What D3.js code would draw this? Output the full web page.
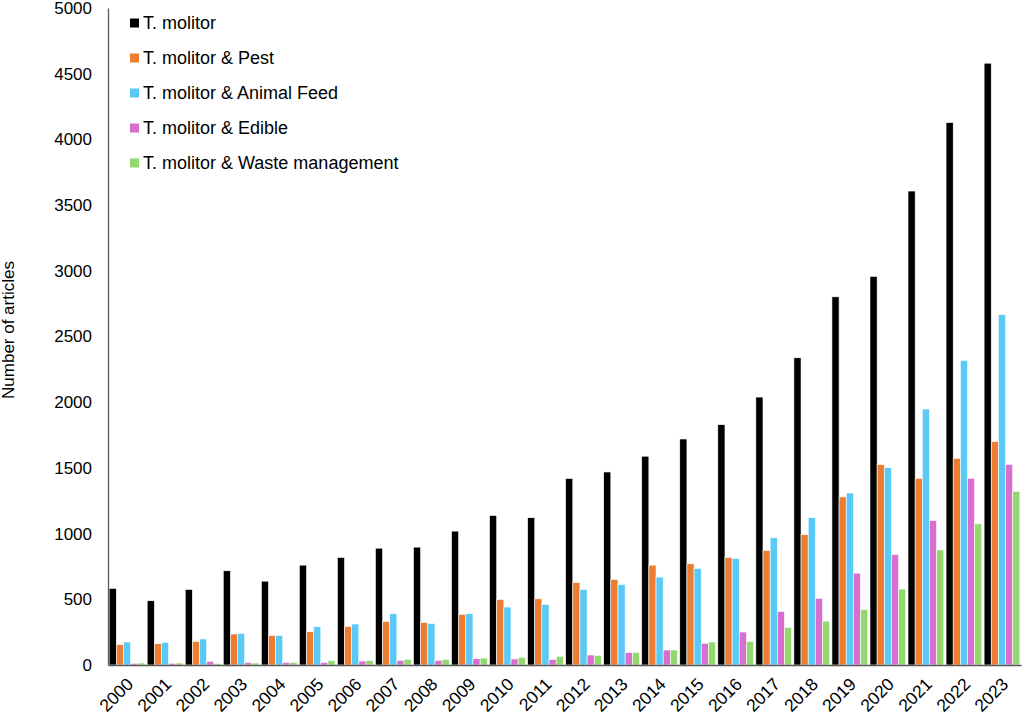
<!DOCTYPE html>
<html>
<head>
<meta charset="utf-8">
<script src="https://cdn.jsdelivr.net/npm/d3@7"></script>
<style>
  html, body { margin: 0; padding: 0; background: #fff; }
  svg { display: block; font-family: "Liberation Sans", Arial, Helvetica, sans-serif; }
</style>
</head>
<body>
<svg id="chart" width="1024" height="716"></svg>
<script>
const years = ["2000","2001","2002","2003","2004","2005","2006","2007","2008","2009","2010","2011","2012","2013","2014","2015","2016","2017","2018","2019","2020","2021","2022","2023"];
const seriesNames = ["T. molitor","T. molitor & Pest","T. molitor & Animal Feed","T. molitor & Edible","T. molitor & Waste management"];
const molitor   = [583, 489, 575, 717, 638, 760, 818, 889, 897, 1019, 1138, 1121, 1419, 1469, 1589, 1720, 1829, 2039, 2338, 2802, 2958, 3607, 4128, 4580];
const pest      = [157, 162, 180, 236, 225, 253, 294, 332, 324, 385, 499, 504, 628, 651, 760, 770, 818, 871, 993, 1279, 1525, 1421, 1573, 1700];
const feed      = [175, 172, 198, 241, 225, 291, 312, 390, 316, 390, 441, 461, 575, 613, 669, 735, 810, 968, 1122, 1309, 1502, 1948, 2318, 2667];
const edible    = [13, 13, 28, 20, 20, 20, 30, 35, 35, 48, 46, 43, 76, 94, 114, 165, 251, 408, 507, 699, 841, 1099, 1421, 1527];
const waste     = [15, 15, 12, 15, 20, 33, 33, 43, 43, 53, 58, 66, 74, 96, 114, 175, 180, 286, 334, 423, 578, 876, 1074, 1322];
const yTicks    = [0, 500, 1000, 1500, 2000, 2500, 3000, 3500, 4000, 4500, 5000];
const colors    = ["#000000", "#ED7D31", "#5BC9F5", "#D86FCE", "#92D86F"];

const allSeries = [molitor, pest, feed, edible, waste];
const svg = d3.select("#chart");

const x0 = d3.scaleBand().domain(years).range([108, 1021]).paddingInner(0.06).paddingOuter(0.03);
const x1 = d3.scaleBand().domain(d3.range(seriesNames.length)).range([0, x0.bandwidth()]).padding(0);
const y = d3.scaleLinear().domain([0, 5000]).range([665, 8]);

// bars
const groups = svg.append("g").selectAll("g")
  .data(years)
  .join("g")
  .attr("transform", d => `translate(${x0(d)},0)`);

groups.selectAll("rect")
  .data((d, i) => allSeries.map((s, k) => ({ k, v: s[i] })))
  .join("rect")
  .attr("x", d => x1(d.k))
  .attr("width", x1.bandwidth())
  .attr("y", d => y(d.v))
  .attr("height", d => y(0) - y(d.v))
  .attr("fill", d => colors[d.k])
  .attr("stroke", "#ffffff")
  .attr("stroke-width", 0.6);

// y axis
const yAxis = d3.axisLeft(y).tickValues(yTicks).tickSize(0).tickPadding(16).tickFormat(d3.format("d"));
const gy = svg.append("g").attr("transform", "translate(108,0)").call(yAxis);
gy.select(".domain").attr("stroke", "#595959").attr("stroke-width", 1.3);
gy.selectAll("text").attr("font-size", "17px").attr("fill", "#000")
  .attr("font-family", "'Liberation Sans', Arial, sans-serif");

// x axis
const xAxis = d3.axisBottom(x0).tickSize(0).tickPadding(0);
const gx = svg.append("g").attr("transform", "translate(0,665)").call(xAxis);
gx.select(".domain").attr("stroke", "#595959").attr("stroke-width", 1.3);
gx.selectAll("text")
  .attr("font-size", "17.5px").attr("fill", "#000")
  .attr("font-family", "'Liberation Sans', Arial, sans-serif")
  .attr("text-anchor", "end")
  .attr("dy", "0.35em")
  .attr("transform", "translate(3,16) rotate(-45)");

// y label
svg.append("text")
  .attr("transform", "translate(14,330) rotate(-90)")
  .attr("text-anchor", "middle")
  .attr("font-size", "17px")
  .attr("fill", "#000")
  .text("Number of articles");

// legend
const legend = svg.append("g").selectAll("g")
  .data(seriesNames)
  .join("g")
  .attr("transform", (d, i) => `translate(130,${23 + i * 35})`);
legend.append("rect")
  .attr("x", 0).attr("y", -4.5).attr("width", 9).attr("height", 9)
  .attr("fill", (d, i) => colors[i]);
legend.append("text")
  .attr("x", 13).attr("y", 0).attr("dy", "0.35em")
  .attr("font-size", "18px").attr("fill", "#000")
  .text(d => d);
</script>
</body>
</html>
